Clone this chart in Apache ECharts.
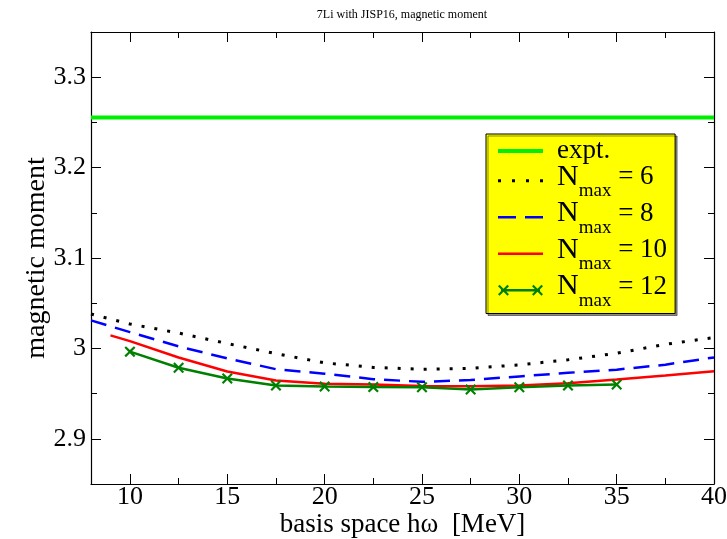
<!DOCTYPE html>
<html>
<head>
<meta charset="utf-8">
<script src="https://cdn.jsdelivr.net/npm/echarts@6/dist/echarts.min.js"></script>
<style>html,body{margin:0;padding:0;background:#fff}#c{width:727px;height:539px}</style>
</head>
<body>
<div id="c"></div>
<script>
// ---- data ----
const titleText = '7Li with JISP16, magnetic moment';
const xName = 'basis space h\u03c9  [MeV]';
const yName = 'magnetic moment';
const xMajor = [10, 15, 20, 25, 30, 35, 40];
const xMinor = [12.5, 17.5, 22.5, 27.5, 32.5, 37.5];
const yMajor = [2.9, 3.0, 3.1, 3.2, 3.3];
const yMinor = [2.95, 3.05, 3.15, 3.25];
const exptX = [8, 40];
const exptY = [3.2555, 3.2555];
const xN6 = [8, 10, 12.5, 15, 17.5, 20, 22.5, 25, 27.5, 30, 32.5, 35, 37.5, 40];
const yN6 = [3.038, 3.027, 3.017, 3.0054, 2.9942, 2.984, 2.979, 2.9769, 2.978, 2.9818, 2.9874, 2.9946, 3.0045, 3.012];
const xN8 = [8, 10, 12.5, 15, 17.5, 20, 22.5, 25, 27.5, 30, 32.5, 35, 37.5, 40];
const yN8 = [3.031, 3.018, 3.0022, 2.989, 2.977, 2.972, 2.966, 2.963, 2.965, 2.969, 2.973, 2.9765, 2.982, 2.990];
const xN10 = [9, 10, 12.5, 15, 17.5, 20, 22.5, 25, 27.5, 30, 32.5, 35, 37.5, 40];
const yN10 = [3.0144, 3.008, 2.990, 2.9745, 2.9645, 2.961, 2.960, 2.9585, 2.958, 2.959, 2.9615, 2.9655, 2.970, 2.9746];
const xN12 = [10, 12.5, 15, 17.5, 20, 22.5, 25, 27.5, 30, 32.5, 35];
const yN12 = [2.9964, 2.9786, 2.9667, 2.9589, 2.9578, 2.9572, 2.957, 2.9545, 2.957, 2.9589, 2.960];
const seriesNames = ['expt.', 'N6', 'N8', 'N10', 'N12'];
const legendEq = {'N6': ' = 6', 'N8': ' = 8', 'N10': ' = 10', 'N12': ' = 12'};

const zip = (a, b) => a.map((v, i) => [v, b[i]]);
const FONT = '"Liberation Serif", "DejaVu Serif", serif';
const xMark = 'path://M0,1.4L1.4,0L5,3.6L8.6,0L10,1.4L6.4,5L10,8.6L8.6,10L5,6.4L1.4,10L0,8.6L3.6,5Z';

// legend icon shapes (45 x 20 box)
const IW = 45, IH = 20;
const corners = 'M0,0L0.01,0L0,0.01Z M45,20L44.99,20L45,19.99Z ';
const rect = (x0, y0, x1, y1) => `M${x0},${y0}L${x1},${y0}L${x1},${y1}L${x0},${y1}Z `;
function xPath(cx, cy, s) {
  const p = [[0,1.4],[1.4,0],[5,3.6],[8.6,0],[10,1.4],[6.4,5],[10,8.6],[8.6,10],[5,6.4],[1.4,10],[0,8.6],[3.6,5]];
  return p.map((q, i) => (i ? 'L' : 'M') + (cx - s + q[0] * s / 5).toFixed(2) + ',' + (cy - s + q[1] * s / 5).toFixed(2)).join('') + 'Z ';
}
const yc = 13.8;
const iconExpt = 'path://' + corners + rect(0, 8, 45, 12);
const iconN6 = 'path://' + corners + rect(0, yc - 1.5, 3, yc + 1.5) + rect(14, yc - 1.5, 17, yc + 1.5) + rect(28, yc - 1.5, 31, yc + 1.5) + rect(42, yc - 1.5, 45, yc + 1.5);
const iconN8 = 'path://' + corners + rect(0, yc - 1.3, 18, yc + 1.3) + rect(27, yc - 1.3, 45, yc + 1.3);
const iconN10 = 'path://' + corners + rect(0, yc - 1.2, 45, yc + 1.2);
const iconN12 = 'path://' + corners + rect(3, yc - 1.2, 42, yc + 1.2) + xPath(5.5, yc, 5.5) + xPath(39.5, yc, 5.5);
const legendIcons = {'expt.': iconExpt, 'N6': iconN6, 'N8': iconN8, 'N10': iconN10, 'N12': iconN12};

const gridPos = {left: 91, right: 13, top: 32, bottom: 55, outerBoundsMode: 'none', containLabel: false};
const axisLineStyle = {color: '#000', width: 1.2};
function xAx(grid, pos, major, labels) {
  return {
    type: 'value', gridIndex: grid, position: pos, min: 8, max: 40,
    axisLine: {show: grid === 0, onZero: false, lineStyle: axisLineStyle},
    axisTick: {show: true, inside: true, length: major ? 10 : 6, customValues: major ? xMajor : xMinor, lineStyle: {color: '#000', width: 1}},
    axisLabel: {show: labels, customValues: xMajor, fontFamily: FONT, fontSize: 26, color: '#000', margin: 0},
    splitLine: {show: false},
    name: labels ? xName : '', nameLocation: 'middle', nameGap: 27.5, nameMoveOverlap: false,
    nameTextStyle: {fontFamily: FONT, fontSize: 27, color: '#000'}
  };
}
function yAx(grid, pos, major, labels) {
  return {
    type: 'value', gridIndex: grid, position: pos, min: 2.85, max: 3.35,
    axisLine: {show: grid === 0, onZero: false, lineStyle: axisLineStyle},
    axisTick: {show: true, inside: true, length: major ? 10 : 6, customValues: major ? yMajor : yMinor, lineStyle: {color: '#000', width: 1}},
    axisLabel: {show: labels, customValues: yMajor, fontFamily: FONT, fontSize: 26, color: '#000', margin: 5,
      formatter: v => (Math.round(v * 10) / 10).toString()},
    splitLine: {show: false},
    name: labels ? yName : '', nameLocation: 'middle', nameGap: 40, nameRotate: 90, nameMoveOverlap: false,
    nameTextStyle: {fontFamily: FONT, fontSize: 28, color: '#000'}
  };
}

const chart = echarts.init(document.getElementById('c'), null, {renderer: 'canvas'});
chart.setOption({
  animation: false,
  backgroundColor: '#fff',
  textStyle: {fontFamily: FONT},
  title: {text: titleText, left: 397, top: 4, textAlign: 'center',
    textStyle: {fontFamily: FONT, fontSize: 12, fontWeight: 'normal', color: '#000'}},
  grid: [Object.assign({}, gridPos), Object.assign({}, gridPos)],
  xAxis: [xAx(0, 'bottom', true, true), xAx(0, 'top', true, false), xAx(1, 'bottom', false, false), xAx(1, 'top', false, false)],
  yAxis: [yAx(0, 'left', true, true), yAx(0, 'right', true, false), yAx(1, 'left', false, false), yAx(1, 'right', false, false)],
  legend: {
    data: seriesNames.map(n => ({name: n, icon: legendIcons[n]})),
    orient: 'vertical', left: 486, top: 134,
    backgroundColor: '#ffff00', borderColor: '#000', borderWidth: 1,
    shadowColor: 'rgba(0,0,0,0.45)', shadowOffsetX: 2, shadowOffsetY: 2, shadowBlur: 0,
    padding: [3.5, 8, 3, 12], itemWidth: IW, itemHeight: IH, itemGap: -11.5,
    symbolKeepAspect: false,
    formatter: function (name) {
      if (name === 'expt.') return '{t|expt.}';
      return '{n|N}{s|max}{e|' + legendEq[name] + '}';
    },
    textStyle: {
      fontFamily: FONT, color: '#000', padding: [0, 0, 0, 9],
      rich: {
        t: {fontFamily: FONT, fontSize: 27, color: '#000', lineHeight: 35.4},
        n: {fontFamily: FONT, fontSize: 30, color: '#000', lineHeight: 36},
        s: {fontFamily: FONT, fontSize: 19, color: '#000', lineHeight: 36, padding: [29, 0, 0, 0]},
        e: {fontFamily: FONT, fontSize: 27, color: '#000', lineHeight: 36}
      }
    }
  },
  series: [
    {name: 'expt.', type: 'line', data: zip(exptX, exptY), symbol: 'none', lineStyle: {color: '#00ee00', width: 4}, itemStyle: {color: '#00ee00'}},
    {name: 'N6', type: 'line', data: zip(xN6, yN6), symbol: 'none', lineStyle: {color: '#000', width: 3, type: [3, 10], cap: 'butt'}, itemStyle: {color: '#000'}},
    {name: 'N8', type: 'line', data: zip(xN8, yN8), symbol: 'none', lineStyle: {color: '#0000ff', width: 2.5, type: [16, 9], cap: 'butt'}, itemStyle: {color: '#0000ff'}},
    {name: 'N10', type: 'line', data: zip(xN10, yN10), symbol: 'none', lineStyle: {color: '#ff0000', width: 2.5}, itemStyle: {color: '#ff0000'}},
    {name: 'N12', type: 'line', data: zip(xN12, yN12), symbol: xMark, symbolSize: 11, showSymbol: true, lineStyle: {color: '#008000', width: 2.5}, itemStyle: {color: '#008000'}}
  ]
});
</script>
</body>
</html>
